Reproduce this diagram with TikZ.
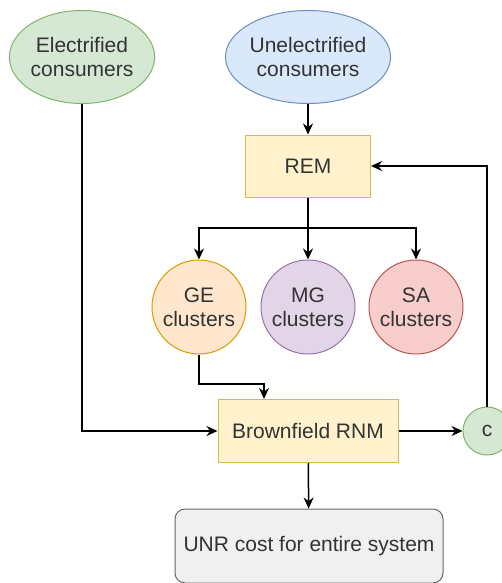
\documentclass[tikz,border=0pt]{standalone}
\usepackage{fontspec}
\setmainfont{Liberation Sans}
\usetikzlibrary{arrows.meta,positioning,shapes.geometric}

\definecolor{greenfill}{HTML}{D5E8D4}
\definecolor{greenline}{HTML}{82B366}
\definecolor{bluefill}{HTML}{DAE8FC}
\definecolor{blueline}{HTML}{6C8EBF}
\definecolor{yellowfill}{HTML}{FFF2CC}
\definecolor{yellowline}{HTML}{D6B656}
\definecolor{orangefill}{HTML}{FFE6CC}
\definecolor{orangeline}{HTML}{D79B00}
\definecolor{purplefill}{HTML}{E1D5E7}
\definecolor{purpleline}{HTML}{9673A6}
\definecolor{redfill}{HTML}{F8CECC}
\definecolor{redline}{HTML}{B85450}
\definecolor{grayfill}{HTML}{F0F0F0}
\definecolor{grayline}{HTML}{666666}
\definecolor{txt}{HTML}{333333}

\begin{document}
\begin{tikzpicture}[x=1pt,y=-1pt,
    every node/.style={font=\fontsize{21}{24}\selectfont,text=txt,align=center,inner sep=0pt,line width=1pt},
    consumers/.style={ellipse,minimum width=142pt,minimum height=93pt},
    modelbox/.style={rectangle,draw=yellowline,fill=yellowfill},
    cluster/.style={circle,minimum size=94pt},
    arr/.style={line width=1.5pt,-{Stealth[length=11pt,width=10pt]}},
    plain/.style={line width=1.5pt}]
    \useasboundingbox (0,0) rectangle (501,583);

    \node[consumers,draw=greenline,fill=greenfill] (elec) at (82,57) {Electrified\\consumers};
    \node[consumers,draw=blueline,fill=bluefill,minimum width=151pt] (unelec) at (308,57) {Unelectrified\\consumers};

    \node[modelbox,minimum width=125pt,minimum height=62pt] (rem) at (308,166) {REM};

    \node[cluster,draw=orangeline,fill=orangefill] (ge) at (199,307) {GE\\clusters};
    \node[cluster,draw=purpleline,fill=purplefill] (mg) at (308,307) {MG\\clusters};
    \node[cluster,draw=redline,fill=redfill] (sa) at (416,307) {SA\\clusters};

    \node[modelbox,minimum width=180pt,minimum height=63pt] (rnm) at (308,431) {Brownfield RNM};
    \node[circle,draw=greenline,fill=greenfill,minimum size=48pt] (c) at (487,431) {c};

    \node[rectangle,rounded corners=10pt,draw=grayline,fill=grayfill,minimum width=268pt,minimum height=74pt] (unr) at (309,546) {UNR cost for entire system};

    \coordinate (split) at (308,228);
    \coordinate (gejog) at (264,384);

    \draw[arr] (unelec) -- (rem);
    \draw[plain] (rem) -- (split);
    \foreach \to in {ge,mg,sa}
        \draw[arr] (split) -| (\to);
    \draw[arr] (ge.south) |- (gejog) -- (gejog |- rnm.north);
    \draw[arr] (elec.south) |- (rnm.west);
    \draw[arr] (rnm) -- (c);
    \draw[arr] (c.north) |- (rem.east);
    \draw[arr] (rnm) -- (unr);
\end{tikzpicture}
\end{document}
